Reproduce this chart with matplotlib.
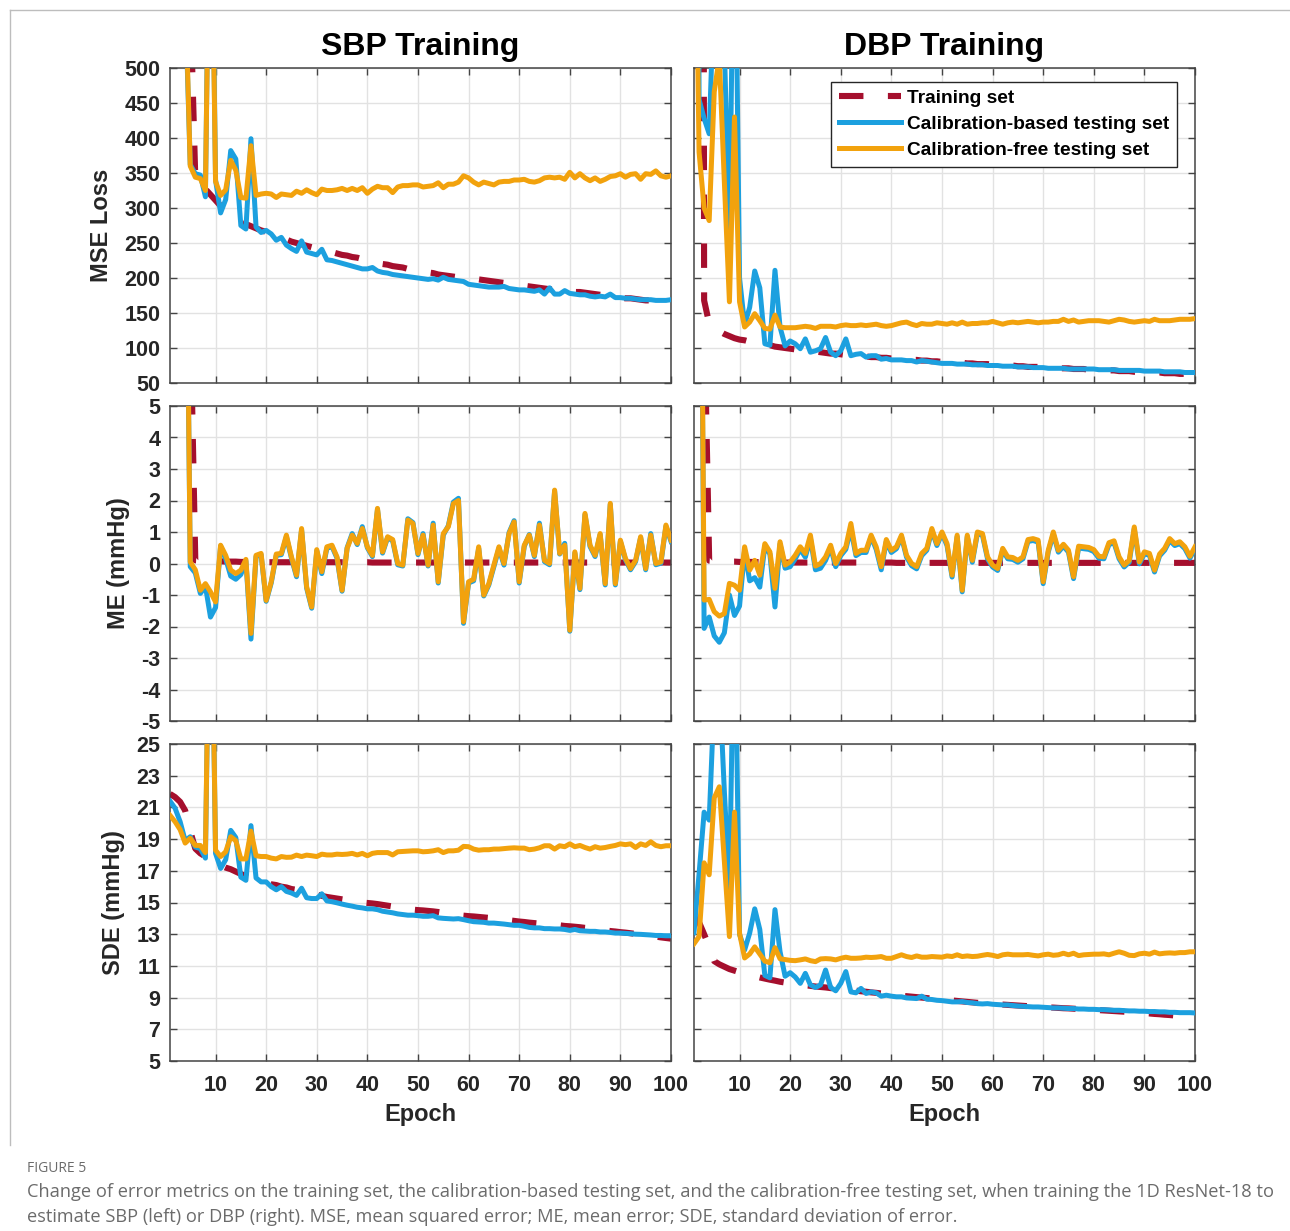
import matplotlib

matplotlib.use("Agg")
import matplotlib.pyplot as plt
from matplotlib import font_manager
from matplotlib.lines import Line2D

epochs = list(range(1, 101))

# ---- MSE loss ----
sbp_mse_train = [14000, 9000, 6000, 4000, 600, 342, 335, 327, 319, 311,
                 303, 297, 291, 286, 281, 277, 274, 271, 268, 266,
                 263, 260, 257, 255, 252, 250, 248, 246, 244, 243,
                 241, 239, 237, 235, 233, 232, 230, 229, 227, 226,
                 224, 222, 220, 219, 217, 216, 215, 213, 212, 211,
                 209, 208, 207, 205, 204, 203, 202, 201, 200, 200,
                 199, 198, 197, 196, 195, 194, 193, 192, 191, 190,
                 189, 188, 187, 186, 185, 184, 183, 183, 182, 181,
                 180, 180, 179, 178, 177, 176, 175, 174, 173, 172,
                 171, 171, 170, 169, 168, 168, 167, 166, 166, 165]
sbp_mse_calib = [12000, 7000, 3000, 600, 362, 349, 347, 316, 900, 340,
                 293, 312, 382, 370, 275, 270, 399, 273, 265, 268,
                 263, 254, 258, 247, 242, 238, 253, 237, 235, 233,
                 241, 226, 225, 223, 221, 219, 217, 215, 213, 213,
                 215, 210, 208, 207, 205, 204, 203, 202, 201, 200,
                 199, 198, 199, 197, 201, 198, 197, 196, 195, 191,
                 190, 189, 188, 187, 187, 187, 188, 185, 184, 183,
                 183, 182, 181, 183, 177, 186, 177, 177, 182, 178,
                 177, 176, 176, 174, 173, 174, 173, 177, 172, 172,
                 171, 171, 170, 169, 169, 169, 168, 168, 168, 169]
sbp_mse_free = [11000, 6000, 2500, 620, 360, 344, 342, 325, 850, 338,
                318, 326, 368, 354, 315, 314, 389, 318, 320, 321,
                320, 315, 320, 319, 318, 324, 321, 326, 322, 319,
                327, 325, 325, 326, 328, 325, 328, 325, 329, 321,
                327, 331, 329, 329, 322, 330, 332, 332, 333, 333,
                330, 331, 332, 336, 329, 334, 334, 337, 346, 343,
                337, 333, 337, 335, 333, 337, 338, 338, 340, 340,
                341, 338, 337, 339, 343, 344, 343, 344, 341, 351,
                343, 349, 343, 339, 343, 338, 341, 345, 346, 349,
                344, 348, 349, 341, 349, 348, 353, 346, 344, 346]

dbp_mse_train = [20000, 6000, 168, 135, 128, 124, 120, 117, 114, 112,
                 111, 109, 108, 106, 105, 104, 102, 101, 100, 99,
                 98, 97, 96, 95, 95, 94, 93, 92, 92, 91,
                 90, 90, 89, 88, 88, 87, 87, 86, 86, 85,
                 85, 84, 84, 83, 83, 82, 82, 81, 81, 80,
                 80, 79, 79, 79, 78, 78, 77, 77, 77, 76,
                 76, 75, 75, 75, 74, 74, 73, 73, 73, 72,
                 72, 72, 71, 71, 71, 70, 70, 70, 69, 69,
                 69, 68, 68, 68, 67, 67, 67, 66, 66, 66,
                 65, 65, 65, 64, 64, 64, 63, 63, 62, 62]
dbp_mse_calib = [3000, 455, 428, 406, 620, 1200, 530, 262, 800, 200,
                 133, 158, 210, 186, 106, 104, 211, 130, 103, 110,
                 106, 99, 113, 94, 96, 99, 115, 94, 89, 96,
                 113, 89, 91, 92, 87, 89, 89, 84, 85, 83,
                 83, 83, 82, 82, 80, 82, 81, 80, 79, 78,
                 78, 78, 77, 77, 77, 76, 76, 76, 75, 75,
                 75, 74, 74, 74, 73, 73, 73, 72, 72, 72,
                 71, 71, 71, 71, 70, 70, 70, 70, 70, 70,
                 69, 69, 69, 69, 68, 68, 68, 68, 68, 67,
                 67, 67, 67, 66, 66, 66, 66, 65, 65, 65]
dbp_mse_free = [900, 380, 300, 282, 466, 515, 337, 166, 430, 166,
                130, 137, 149, 139, 128, 127, 147, 130, 129, 129,
                129, 130, 131, 130, 128, 131, 131, 131, 130, 132,
                133, 132, 132, 133, 132, 133, 134, 132, 131, 132,
                134, 136, 137, 134, 132, 135, 134, 134, 136, 135,
                134, 136, 134, 137, 134, 135, 135, 136, 136, 138,
                136, 134, 136, 137, 136, 137, 138, 137, 136, 137,
                137, 138, 138, 141, 138, 140, 137, 138, 139, 139,
                139, 138, 137, 139, 141, 140, 138, 137, 138, 139,
                138, 141, 139, 139, 139, 140, 141, 141, 141, 142]

# ---- ME (mmHg) ----
sbp_me_train = [60, 50, 40, 30, 8, 0.10, 0.09, 0.08, 0.08, 0.07,
                0.07, 0.06, 0.06, 0.06, 0.05, 0.05, 0.05, 0.05, 0.05, 0.04,
                0.04, 0.04, 0.04, 0.04, 0.04, 0.04, 0.04, 0.04, 0.04, 0.04,
                0.04, 0.04, 0.04, 0.04, 0.04, 0.04, 0.04, 0.04, 0.04, 0.04,
                0.03, 0.03, 0.03, 0.03, 0.03, 0.03, 0.03, 0.03, 0.03, 0.03,
                0.03, 0.03, 0.03, 0.03, 0.03, 0.03, 0.03, 0.03, 0.03, 0.03,
                0.03, 0.03, 0.03, 0.03, 0.03, 0.03, 0.03, 0.03, 0.03, 0.03,
                0.03, 0.03, 0.03, 0.03, 0.03, 0.03, 0.03, 0.03, 0.03, 0.03,
                0.03, 0.03, 0.03, 0.03, 0.03, 0.03, 0.03, 0.03, 0.03, 0.03,
                0.03, 0.03, 0.03, 0.03, 0.03, 0.03, 0.03, 0.03, 0.03, 0.03]
sbp_me_calib = [40, 35, 30, 15, -0.1, -0.3, -0.95, -0.72, -1.7, -1.4,
                0.55, 0.15, -0.4, -0.5, -0.35, 0.08, -2.4, 0.22, 0.28, -1.2,
                -0.62, 0.26, 0.28, 0.85, 0.17, -0.42, 1.07, -0.78, -1.42, 0.4,
                -0.32, 0.48, 0.54, 0.17, -0.88, 0.5, 0.95, 0.6, 1.17, 0.5,
                0.22, 1.72, 0.33, 0.82, 0.72, -0.04, -0.08, 1.42, 1.3, 0.28,
                0.95, -0.08, 1.28, -0.62, 0.9, 1.2, 1.95, 2.07, -1.9, -0.62,
                -0.55, 0.48, -1.03, -0.68, -0.1, 0.48, -0.05, 0.98, 1.36, -0.62,
                0.54, 0.92, 0.22, 1.28, 0.06, -0.04, 2.3, 0.3, 0.64, -2.15,
                0.33, -0.83, 1.55, 0.54, 0.22, 0.92, -0.68, 1.88, -0.68, 0.7,
                0.12, -0.2, 0.06, 0.82, -0.2, 0.95, -0.04, 0.01, 1.18, 0.7]
sbp_me_free = [40, 35, 30, 15, 0.05, -0.2, -0.85, -0.64, -0.9, -1.22,
               0.58, 0.26, -0.21, -0.32, -0.21, 0.13, -2.22, 0.26, 0.32, -1.17,
               -0.58, 0.3, 0.32, 0.9, 0.21, -0.37, 1.11, -0.74, -1.38, 0.44,
               -0.26, 0.53, 0.58, 0.21, -0.85, 0.48, 0.9, 0.64, 1.11, 0.53,
               0.26, 1.75, 0.37, 0.85, 0.76, 0.0, -0.05, 1.38, 1.27, 0.32,
               0.9, -0.05, 1.22, -0.58, 0.95, 1.17, 1.9, 2.0, -1.85, -0.58,
               -0.5, 0.53, -1.0, -0.64, -0.05, 0.53, 0.0, 0.95, 1.32, -0.58,
               0.58, 0.9, 0.26, 1.22, 0.1, 0.0, 2.33, 0.32, 0.58, -2.12,
               0.37, -0.79, 1.59, 0.58, 0.26, 0.95, -0.64, 1.91, -0.64, 0.74,
               0.16, -0.16, 0.1, 0.85, -0.16, 0.9, 0.0, 0.05, 1.22, 0.74]

dbp_me_train = [60, 30, 8, 0.09, 0.08, 0.07, 0.07, 0.06, 0.06, 0.05,
                0.05, 0.05, 0.05, 0.04, 0.04, 0.04, 0.04, 0.04, 0.03, 0.03,
                0.03, 0.03, 0.03, 0.03, 0.03, 0.03, 0.03, 0.03, 0.03, 0.03,
                0.03, 0.03, 0.03, 0.03, 0.03, 0.03, 0.03, 0.03, 0.03, 0.03,
                0.02, 0.02, 0.02, 0.02, 0.02, 0.02, 0.02, 0.02, 0.02, 0.02,
                0.02, 0.02, 0.02, 0.02, 0.02, 0.02, 0.02, 0.02, 0.02, 0.02,
                0.02, 0.02, 0.02, 0.02, 0.02, 0.02, 0.02, 0.02, 0.02, 0.02,
                0.02, 0.02, 0.02, 0.02, 0.02, 0.02, 0.02, 0.02, 0.02, 0.02,
                0.02, 0.02, 0.02, 0.02, 0.02, 0.02, 0.02, 0.02, 0.02, 0.02,
                0.02, 0.02, 0.02, 0.02, 0.02, 0.02, 0.02, 0.02, 0.02, 0.02]
dbp_me_calib = [40, 20, -2.06, -1.7, -2.3, -2.5, -2.2, -1.0, -1.65, -1.35,
                0.42, -0.55, -0.45, -0.75, 0.55, 0.3, -1.38, 0.62, -0.15, -0.1,
                0.15, 0.45, 0.2, 0.8, -0.2, -0.15, 0.1, 0.5, -0.1, 0.25,
                0.45, 1.1, 0.25, 0.35, 0.35, 0.85, 0.45, -0.2, 0.7, 0.35,
                0.47, 0.85, 0.2, -0.07, -0.17, 0.25, 0.42, 1.05, 0.57, 0.95,
                0.57, -0.43, 0.85, -0.9, 0.85, 0.04, 0.95, 0.9, 0.15, -0.11,
                -0.22, 0.42, 0.15, 0.13, 0.04, 0.15, 0.7, 0.73, 0.68, -0.64,
                0.36, 0.94, 0.36, 0.55, 0.36, -0.48, 0.49, 0.47, 0.45, 0.38,
                0.17, 0.15, 0.6, 0.66, 0.15, -0.11, 0.04, 1.1, -0.01, 0.31,
                0.26, -0.27, 0.24, 0.42, 0.73, 0.57, 0.63, 0.47, 0.17, 0.47]
dbp_me_free = [40, 20, -1.16, -1.14, -1.53, -1.67, -1.59, -0.63, -0.69, -0.85,
               0.53, -0.21, 0.1, -0.37, 0.63, 0.37, -0.79, 0.69, -0.05, 0.05,
               0.26, 0.53, 0.32, 0.9, -0.08, 0.0, 0.21, 0.58, 0.0, 0.32,
               0.53, 1.27, 0.32, 0.42, 0.42, 0.9, 0.53, -0.1, 0.76, 0.42,
               0.53, 0.9, 0.26, 0.0, -0.1, 0.32, 0.48, 1.11, 0.63, 1.0,
               0.63, -0.37, 0.9, -0.85, 0.9, 0.1, 1.0, 0.95, 0.21, -0.05,
               -0.16, 0.48, 0.21, 0.19, 0.1, 0.21, 0.76, 0.79, 0.74, -0.58,
               0.42, 1.0, 0.42, 0.61, 0.42, -0.42, 0.55, 0.53, 0.51, 0.44,
               0.23, 0.21, 0.66, 0.72, 0.21, -0.05, 0.1, 1.16, 0.05, 0.37,
               0.32, -0.21, 0.3, 0.48, 0.79, 0.63, 0.69, 0.53, 0.23, 0.53]

# ---- SDE (mmHg) ----
sbp_sde_train = [21.85, 21.65, 21.35, 20.8, 19.5, 18.4, 18.1, 17.9, 17.7, 17.5,
                 17.35, 17.2, 17.1, 16.95, 16.8, 16.65, 16.5, 16.4, 16.3, 16.2,
                 16.15, 16.1, 16.0, 15.95, 15.85, 15.8, 15.7, 15.6, 15.55, 15.5,
                 15.42, 15.35, 15.3, 15.25, 15.2, 15.15, 15.1, 15.05, 15.0, 14.97,
                 14.94, 14.9, 14.85, 14.8, 14.75, 14.68, 14.62, 14.58, 14.55, 14.52,
                 14.5, 14.47, 14.44, 14.4, 14.35, 14.3, 14.25, 14.2, 14.17, 14.14,
                 14.12, 14.09, 14.06, 14.03, 14.0, 13.96, 13.92, 13.88, 13.84, 13.8,
                 13.77, 13.73, 13.7, 13.67, 13.65, 13.62, 13.6, 13.56, 13.52, 13.5,
                 13.47, 13.44, 13.4, 13.37, 13.33, 13.3, 13.25, 13.2, 13.17, 13.13,
                 13.1, 13.06, 13.02, 12.98, 12.94, 12.9, 12.85, 12.8, 12.76, 12.72]
sbp_sde_calib = [21.4, 20.95, 20.1, 18.9, 19.15, 18.5, 18.4, 17.8, 40, 18.1,
                 17.15, 17.7, 19.55, 19.1, 16.6, 16.4, 19.85, 16.55, 16.3, 16.3,
                 16.0, 15.8, 16.0, 15.7, 15.6, 15.45, 15.9, 15.3, 15.25, 15.25,
                 15.55, 15.1, 15.05, 14.98, 14.9, 14.83, 14.77, 14.7, 14.66, 14.6,
                 14.6, 14.55, 14.45, 14.4, 14.35, 14.28, 14.24, 14.2, 14.2, 14.17,
                 14.13, 14.13, 14.17, 14.03, 14.0, 13.98, 13.96, 13.98, 13.92, 13.85,
                 13.79, 13.77, 13.75, 13.7, 13.7, 13.67, 13.64, 13.6, 13.56, 13.56,
                 13.5, 13.43, 13.4, 13.4, 13.35, 13.35, 13.33, 13.33, 13.3, 13.24,
                 13.3, 13.22, 13.2, 13.18, 13.18, 13.14, 13.14, 13.11, 13.07, 13.07,
                 13.05, 13.03, 13.0, 12.99, 12.97, 12.95, 12.92, 12.92, 12.9, 12.9]
sbp_sde_free = [20.5, 20.1, 19.6, 18.75, 19.05, 18.6, 18.6, 18.15, 40, 18.3,
                17.9, 18.2, 19.15, 18.9, 17.75, 17.75, 19.5, 17.95, 17.9, 17.9,
                17.8, 17.75, 17.9, 17.85, 17.86, 17.99, 17.9, 17.99, 17.95, 17.9,
                18.05, 18.0, 18.0, 18.05, 18.03, 18.05, 18.1, 18.0, 18.1, 17.95,
                18.1, 18.15, 18.15, 18.15, 18.0, 18.2, 18.22, 18.24, 18.26, 18.26,
                18.2, 18.22, 18.26, 18.33, 18.15, 18.26, 18.26, 18.3, 18.54, 18.52,
                18.37, 18.3, 18.33, 18.33, 18.37, 18.37, 18.4, 18.43, 18.45, 18.43,
                18.43, 18.33, 18.37, 18.45, 18.58, 18.58, 18.37, 18.58, 18.52, 18.7,
                18.52, 18.6, 18.47, 18.37, 18.52, 18.43, 18.47, 18.54, 18.6, 18.7,
                18.65, 18.7, 18.47, 18.7, 18.6, 18.83, 18.6, 18.52, 18.58, 18.58]

dbp_sde_train = [14.1, 13.75, 13.0, 12.2, 11.3, 11.1, 10.95, 10.8, 10.7, 10.6,
                 10.5, 10.42, 10.35, 10.27, 10.2, 10.13, 10.07, 10.0, 9.95, 9.9,
                 9.86, 9.82, 9.78, 9.74, 9.7, 9.67, 9.64, 9.6, 9.57, 9.54,
                 9.5, 9.47, 9.44, 9.4, 9.37, 9.33, 9.3, 9.26, 9.22, 9.18,
                 9.15, 9.12, 9.09, 9.06, 9.03, 9.0, 8.97, 8.94, 8.91, 8.88,
                 8.85, 8.82, 8.79, 8.76, 8.73, 8.7, 8.67, 8.65, 8.62, 8.6,
                 8.58, 8.56, 8.54, 8.52, 8.5, 8.48, 8.46, 8.44, 8.42, 8.4,
                 8.38, 8.37, 8.35, 8.33, 8.32, 8.3, 8.28, 8.27, 8.25, 8.23,
                 8.21, 8.19, 8.17, 8.15, 8.13, 8.11, 8.09, 8.07, 8.05, 8.02,
                 8.0, 7.97, 7.95, 7.92, 7.9, 7.87, 7.85, 7.82, 7.8, 7.77]
dbp_sde_calib = [13.1, 16.8, 20.7, 20.2, 28, 29, 22, 15.8, 35, 13.0,
                 12.0, 13.07, 14.6, 13.3, 10.4, 10.25, 14.55, 11.9, 10.35, 10.57,
                 10.3, 9.9, 10.53, 9.8, 9.64, 9.8, 10.74, 9.64, 9.43, 9.9,
                 10.64, 9.36, 9.3, 9.58, 9.26, 9.36, 9.3, 9.09, 9.15, 9.09,
                 9.05, 9.05, 8.98, 8.96, 8.94, 9.09, 8.9, 8.88, 8.83, 8.81,
                 8.77, 8.73, 8.73, 8.75, 8.69, 8.67, 8.62, 8.6, 8.62, 8.58,
                 8.56, 8.54, 8.54, 8.5, 8.47, 8.45, 8.43, 8.41, 8.41, 8.39,
                 8.37, 8.35, 8.35, 8.33, 8.31, 8.31, 8.28, 8.28, 8.26, 8.26,
                 8.24, 8.24, 8.22, 8.2, 8.2, 8.18, 8.16, 8.16, 8.14, 8.14,
                 8.12, 8.12, 8.1, 8.1, 8.07, 8.07, 8.05, 8.05, 8.05, 8.03]
dbp_sde_free = [12.4, 12.85, 17.5, 16.75, 21.6, 22.3, 17.6, 12.85, 20.7, 13.05,
                11.5, 11.75, 12.2, 11.75, 11.3, 11.2, 12.15, 11.45, 11.4, 11.35,
                11.33, 11.38, 11.44, 11.33, 11.27, 11.44, 11.46, 11.44, 11.38, 11.48,
                11.55, 11.48, 11.48, 11.5, 11.55, 11.53, 11.55, 11.59, 11.48, 11.48,
                11.59, 11.7, 11.59, 11.53, 11.63, 11.55, 11.55, 11.59, 11.57, 11.55,
                11.63, 11.59, 11.7, 11.59, 11.63, 11.59, 11.61, 11.67, 11.72, 11.67,
                11.59, 11.7, 11.74, 11.7, 11.7, 11.7, 11.72, 11.67, 11.63, 11.7,
                11.74, 11.67, 11.7, 11.8, 11.7, 11.8, 11.65, 11.7, 11.72, 11.74,
                11.74, 11.76, 11.7, 11.8, 11.89, 11.8, 11.67, 11.65, 11.76, 11.8,
                11.74, 11.87, 11.76, 11.8, 11.82, 11.8, 11.84, 11.84, 11.89, 11.89]

col_titles = ["SBP Training", "DBP Training"]
row_labels = ["MSE Loss", "ME (mmHg)", "SDE (mmHg)"]
row_limits = [(50, 500), (-5, 5), (5, 25)]
row_ticks = [list(range(50, 501, 50)), list(range(-5, 6)), list(range(5, 26, 2))]
legend_labels = ["Training set", "Calibration-based testing set", "Calibration-free testing set"]

panels = [
    [(sbp_mse_train, sbp_mse_calib, sbp_mse_free), (dbp_mse_train, dbp_mse_calib, dbp_mse_free)],
    [(sbp_me_train, sbp_me_calib, sbp_me_free), (dbp_me_train, dbp_me_calib, dbp_me_free)],
    [(sbp_sde_train, sbp_sde_calib, sbp_sde_free), (dbp_sde_train, dbp_sde_calib, dbp_sde_free)],
]

RED = "#A50F2D"
BLUE = "#1CA0DF"
ORANGE = "#F2A20D"
INK = "#262626"

plt.rcParams["font.family"] = ["Liberation Sans", "DejaVu Sans"]
plt.rcParams["font.weight"] = "bold"
plt.rcParams["axes.titleweight"] = "bold"
plt.rcParams["axes.labelweight"] = "bold"
plt.rcParams["axes.unicode_minus"] = False

W, H = 1290, 1231
fig = plt.figure(figsize=(W / 100, H / 100), dpi=100)

col_px = [(170, 671), (694, 1195)]
row_px = [(68, 383), (406, 721), (744, 1061)]

for r in range(3):
    for c in range(2):
        x0, x1 = col_px[c]
        y0, y1 = row_px[r]
        ax = fig.add_axes([x0 / W, 1 - y1 / H, (x1 - x0) / W, (y1 - y0) / H])
        train, calib, free = panels[r][c]
        ax.plot(epochs, train, color=RED, lw=4.4, dashes=(4.0, 4.0), label=legend_labels[0], zorder=2)
        ax.plot(epochs, calib, color=BLUE, lw=3.6, solid_joinstyle="round", label=legend_labels[1], zorder=3)
        ax.plot(epochs, free, color=ORANGE, lw=3.6, solid_joinstyle="round", label=legend_labels[2], zorder=4)

        ax.set_xlim(1, 100)
        ax.set_ylim(*row_limits[r])
        ax.set_xticks(range(10, 101, 10))
        ax.set_yticks(row_ticks[r])
        ax.grid(True, color="#e2e2e2", lw=1.0)
        ax.set_axisbelow(True)
        for sp in ax.spines.values():
            sp.set_color("#444444")
            sp.set_linewidth(1.1)
        ax.tick_params(direction="in", top=True, right=True, length=5, width=1,
                       color="#444444", labelcolor=INK, labelsize=15.5)
        ax.tick_params(axis="y", pad=7)
        ax.tick_params(axis="x", pad=10)
        ax.tick_params(labelbottom=(r == 2), labelleft=(c == 0))
        if c == 0:
            ax.set_ylabel(row_labels[r], fontsize=17, color=INK, labelpad=8)
        if r == 2:
            ax.set_xlabel("Epoch", fontsize=17, color=INK, labelpad=5)
        if r == 0:
            ax.set_title(col_titles[c], fontsize=23, color="black", pad=9)
        if r == 0 and c == 1:
            leg = ax.legend(loc="upper right", bbox_to_anchor=(0.964, 0.956), borderaxespad=0,
                            fontsize=13.8, handlelength=3.25, handletextpad=0.3, labelspacing=0.45,
                            borderpad=0.4, fancybox=False, framealpha=1, edgecolor=INK)
            leg.get_frame().set_linewidth(1.0)
            for t in leg.get_texts():
                t.set_color("black")

# thin frame of the figure panel
fig.add_artist(Line2D([10 / W, 10 / W], [1 - 10 / H, 1 - 1145 / H], color="#bdbdbd", lw=1,
                      transform=fig.transFigure))
fig.add_artist(Line2D([10 / W, 1.0], [1 - 10 / H, 1 - 10 / H], color="#bdbdbd", lw=1,
                      transform=fig.transFigure))

names = {f.name for f in font_manager.fontManager.ttflist}
cap_font = "Liberation Sans Narrow" if "Liberation Sans Narrow" in names else "Open Sans"

fig.text(27 / W, 1 - 1168 / H, "FIGURE 5", fontsize=10, color="#6b6b6b", fontweight="normal",
         family=cap_font, va="center")
cap1 = fig.text(27 / W, 1 - 1192 / H,
                "Change of error metrics on the training set, the calibration-based testing set, and the "
                "calibration-free testing set, when training the 1D ResNet-18 to",
                fontsize=13, color="#6b6b6b", fontweight="normal", family=cap_font, va="center")
cap2 = fig.text(27 / W, 1 - 1217 / H,
                "estimate SBP (left) or DBP (right). MSE, mean squared error; ME, mean error; SDE, "
                "standard deviation of error.",
                fontsize=13, color="#6b6b6b", fontweight="normal", family=cap_font, va="center")

fig.canvas.draw()
renderer = fig.canvas.get_renderer()
w = cap1.get_window_extent(renderer).width
size = 13 * 1243 / w
cap1.set_fontsize(size)
cap2.set_fontsize(size)

fig.savefig("out.png", dpi=100)
